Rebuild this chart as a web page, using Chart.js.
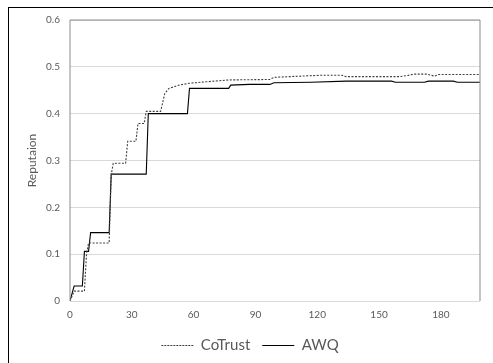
<!DOCTYPE html>
<html>
<head>
<meta charset="utf-8">
<script src="https://cdn.jsdelivr.net/npm/chart.js@4/dist/chart.umd.min.js"></script>
<style>
  html, body { margin: 0; padding: 0; background: #fff; overflow: hidden; }
  #wrap { position: relative; width: 493px; height: 363px; }
  #frame { position: absolute; left: 8px; top: 7px; width: 600px; height: 600px; border: 1px solid #000; pointer-events: none; }
</style>
</head>
<body>
<div id="wrap">
  <canvas id="myChart" width="493" height="363"></canvas>
  <div id="frame"></div>
</div>
<script>
// values (step points)
const coTrustX = [0, 2, 7, 8, 9, 19, 20, 21, 27, 28, 32, 33, 36, 37, 44, 46, 48, 53, 58, 66, 77, 97, 99, 111, 122, 132, 134, 160, 165, 167, 173, 177, 179, 199];
const coTrustY = [0, 0.021, 0.021, 0.100, 0.124, 0.124, 0.270, 0.294, 0.294, 0.341, 0.341, 0.379, 0.379, 0.405, 0.405, 0.443, 0.454, 0.461, 0.465, 0.468, 0.472, 0.473, 0.4775, 0.480, 0.482, 0.482, 0.479, 0.479, 0.4825, 0.4845, 0.4845, 0.480, 0.4835, 0.4835];

const awqX = [0, 2, 6, 7, 9, 10, 19, 20, 37, 38, 57, 58, 77, 78, 87, 97, 99, 117, 134, 156, 158, 172, 174, 186, 188, 199];
const awqY = [0, 0.032, 0.032, 0.106, 0.106, 0.146, 0.146, 0.271, 0.271, 0.400, 0.400, 0.454, 0.454, 0.461, 0.4625, 0.4625, 0.466, 0.467, 0.4695, 0.4695, 0.467, 0.467, 0.4695, 0.4695, 0.467, 0.467];

const xTicks = [0, 30, 60, 90, 120, 150, 180];
const yTicks = [0, 0.1, 0.2, 0.3, 0.4, 0.5, 0.6];

const toPoints = (xs, ys) => xs.map((x, i) => ({ x: x, y: ys[i] }));

// plot area border: top, left and right in gray
const plotBorder = {
    id: 'plotBorder',
    afterDraw(chart) {
        const { ctx, chartArea: a } = chart;
        ctx.save();
        ctx.strokeStyle = '#8c8c8c';
        ctx.lineWidth = 1;
        ctx.beginPath();
        ctx.moveTo(a.left, a.bottom);
        ctx.lineTo(a.left, a.top);
        ctx.lineTo(a.right, a.top);
        ctx.lineTo(a.right, a.bottom);
        ctx.stroke();
        ctx.restore();
    }
};

const ctx = document.getElementById("myChart");
new Chart(ctx, {
    type: 'line',
    data: {
        datasets: [{
            label: 'CoTrust',
            data: toPoints(coTrustX, coTrustY),
            borderColor: '#404040',
            borderWidth: 1.1,
            borderDash: [2, 1.5],
            pointRadius: 0,
            tension: 0,
            fill: false
        }, {
            label: 'AWQ',
            data: toPoints(awqX, awqY),
            borderColor: '#000000',
            borderWidth: 1.1,
            pointRadius: 0,
            tension: 0,
            fill: false
        }]
    },
    options: {
        responsive: false,
        animation: false,
        layout: { padding: { left: 20, right: 13, top: 20, bottom: 0 } },
        scales: {
            x: {
                type: 'linear',
                min: 0,
                max: 199,
                afterBuildTicks: (s) => { s.ticks = xTicks.map(v => ({ value: v })); },
                afterFit: (s) => { s.height = 25; },
                grid: { display: false, drawTicks: false },
                border: { display: false },
                ticks: { padding: 8, color: '#595959', font: { family: 'Lato', size: 10 } }
            },
            y: {
                min: 0,
                max: 0.6,
                afterBuildTicks: (s) => { s.ticks = yTicks.map(v => ({ value: v })); },
                afterFit: (s) => { s.width = 50; },
                grid: { color: '#d9d9d9', drawTicks: false },
                border: { display: false },
                ticks: {
                    padding: 10,
                    color: '#595959',
                    font: { family: 'Lato', size: 10 },
                    callback: (v) => String(Math.round(v * 10) / 10)
                },
                title: {
                    display: true,
                    text: 'Reputaion',
                    color: '#595959',
                    font: { family: 'Lato', size: 12 },
                    padding: { top: 5, bottom: 0 }
                }
            }
        },
        plugins: {
            legend: {
                position: 'bottom',
                labels: {
                    usePointStyle: true,
                    pointStyle: 'line',
                    pointStyleWidth: 32,
                    boxWidth: 32,
                    color: '#595959',
                    padding: 12,
                    font: { family: 'Lato', size: 15 },
                    generateLabels: (chart) => {
                        const items = Chart.defaults.plugins.legend.labels.generateLabels(chart);
                        items.forEach((it, i) => {
                            it.lineWidth = 1.2;
                            it.strokeStyle = i === 0 ? '#404040' : '#000000';
                            it.lineDash = i === 0 ? [2, 1] : [];
                        });
                        return items;
                    }
                }
            },
            tooltip: { enabled: false }
        }
    },
    plugins: [plotBorder]
});
</script>
</body>
</html>
